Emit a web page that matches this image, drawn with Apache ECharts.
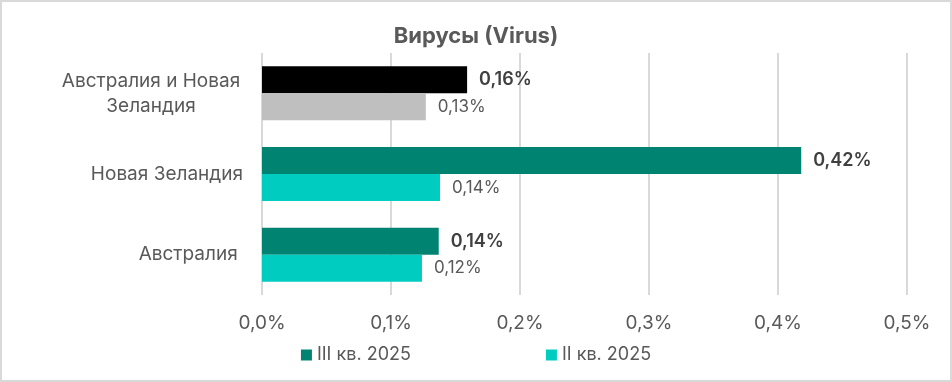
<!DOCTYPE html>
<html><head><meta charset="utf-8">
<script src="https://cdn.jsdelivr.net/npm/echarts@6/dist/echarts.min.js"></script>
<style>
html,body{margin:0;padding:0;background:#fff;}
#c{width:952px;height:382px;box-sizing:border-box;border:2px solid #d9d9d9;}
</style></head>
<body><div id="c"></div>
<script>
const title = 'Вирусы (Virus)';
const categories = ['Австралия и Новая Зеландия', 'Новая Зеландия', 'Австралия '];
const seriesNames = ['III кв. 2025', 'II кв. 2025'];
const q3Values = [0.159, 0.418, 0.137];
const q2Values = [0.127, 0.138, 0.124];
const xTicks = [0, 0.1, 0.2, 0.3, 0.4, 0.5];

const q3Color = '#008370', q2Color = '#00CCBF';
const q3First = '#000000', q2First = '#BFBFBF';
const FONT = 'Inter';
const fmt = v => v.toFixed(2).replace('.', ',') + '%';

const chart = echarts.init(document.getElementById('c'), null, {renderer:'canvas'});
chart.setOption({
  animation:false,
  textStyle:{fontFamily:FONT},
  title:{text:title, left:'center', top:18, textStyle:{fontFamily:FONT, fontSize:22, fontWeight:'bold', color:'#595959'}},
  grid:{left:260, right:43, top:51, bottom:85},
  legend:{
    data:seriesNames, bottom:11, left:'center', itemGap:135, itemWidth:11, itemHeight:11, icon:'rect',
    textStyle:{fontFamily:FONT, fontSize:18, color:'#595959'}
  },
  xAxis:{
    type:'value', min:xTicks[0], max:xTicks[xTicks.length-1], interval:0.1,
    axisLine:{show:false}, axisTick:{show:false},
    splitLine:{lineStyle:{color:'#d9d9d9', width:2}},
    axisLabel:{margin:19, fontFamily:FONT, fontSize:19, color:'#595959', formatter:v=>v.toFixed(1).replace('.', ',')+'%'}
  },
  yAxis:{
    type:'category', inverse:true, data:categories,
    axisLine:{show:false}, axisTick:{show:false},
    axisLabel:{margin:19, fontFamily:FONT, fontSize:19, color:'#595959', lineHeight:25,
      formatter:(v,i)=> i===0 ? '{c|Австралия и Новая}\n{c|Зеландия}' : v,
      rich:{c:{width:184, align:'center', fontFamily:FONT, fontSize:19, color:'#595959', lineHeight:25}}
    }
  },
  series:[
    {name:seriesNames[0], type:'bar', barCategoryGap:'33%', barGap:'0%', itemStyle:{color:q3Color},
      data:q3Values.map((v,i)=>({value:v, itemStyle:{color:i===0?q3First:q3Color}})),
      label:{show:true, position:'right', distance:12, formatter:p=>fmt(p.value), fontFamily:FONT, fontSize:18, fontWeight:600, color:'#404040'}
    },
    {name:seriesNames[1], type:'bar', barCategoryGap:'33%', barGap:'0%', itemStyle:{color:q2Color},
      data:q2Values.map((v,i)=>({value:v, itemStyle:{color:i===0?q2First:q2Color}})),
      label:{show:true, position:'right', distance:12, formatter:p=>fmt(p.value), fontFamily:FONT, fontSize:17, color:'#595959'}
    }
  ]
});
</script></body></html>
